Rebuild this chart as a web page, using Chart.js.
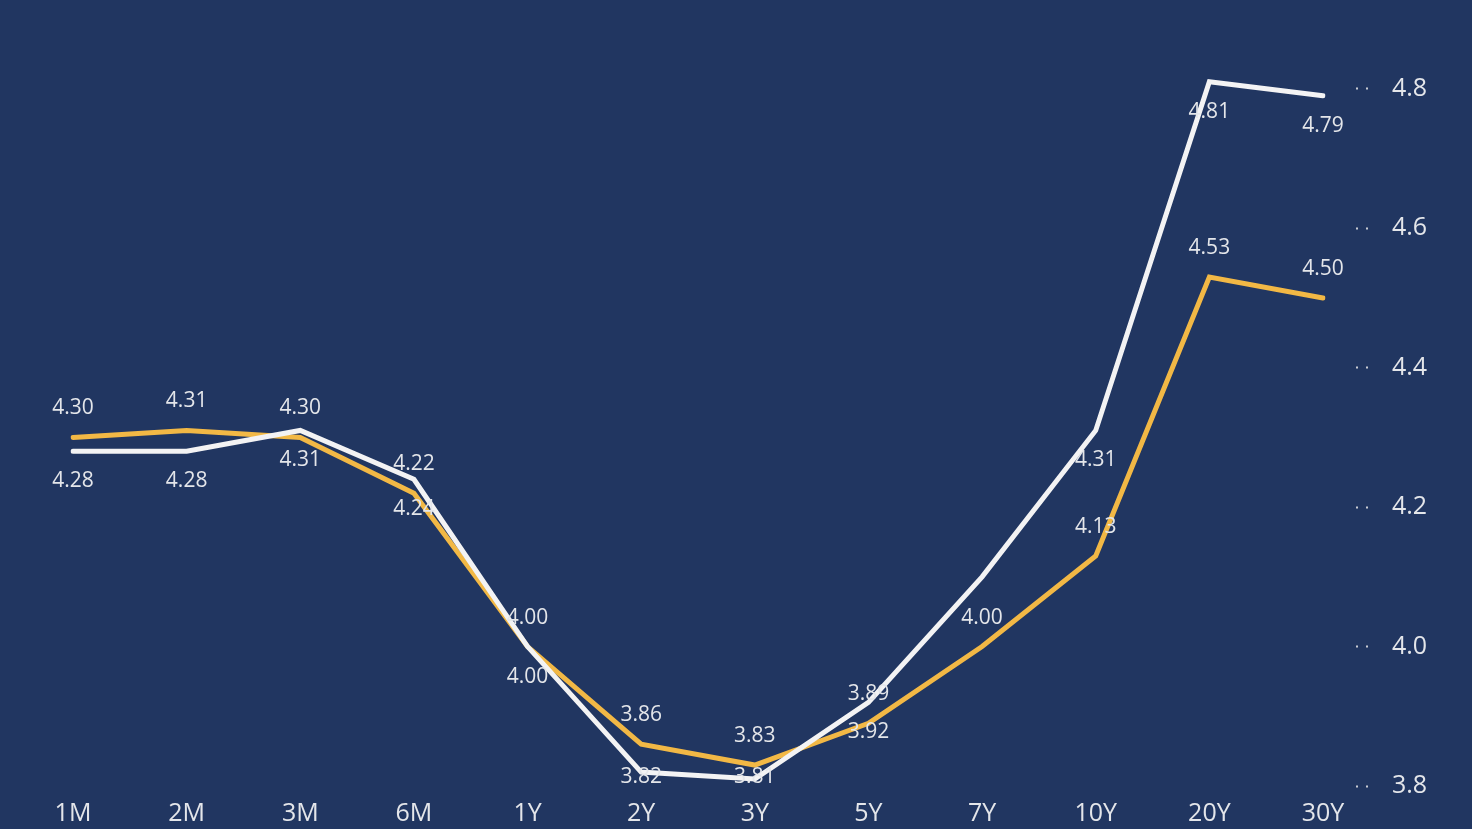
<!DOCTYPE html>
<html>
<head>
<meta charset="utf-8">
<script src="https://cdn.jsdelivr.net/npm/chart.js@4"></script>
<style>
  html, body { margin: 0; padding: 0; background: #213661; overflow: hidden; }
  #wrap { width: 1472px; height: 829px; }
</style>
</head>
<body>
<div id="wrap"><canvas id="c" width="1472" height="829"></canvas></div>
<script>
const categories = ['1M','2M','3M','6M','1Y','2Y','3Y','5Y','7Y','10Y','20Y','30Y'];
const yellowValues = [4.30, 4.31, 4.30, 4.22, 4.00, 3.86, 3.83, 3.89, 4.00, 4.13, 4.53, 4.50];
const whiteValues  = [4.28, 4.28, 4.31, 4.24, 4.00, 3.82, 3.81, 3.92, 4.10, 4.31, 4.81, 4.79];
const whiteHiddenLabels = ['7Y'];
const yTickValues = [3.8, 4.0, 4.2, 4.4, 4.6, 4.8];

const FONT = "'Open Sans', 'Noto Sans', sans-serif";
const TEXT = '#e4e6ea';

const dataLabels = {
  id: 'dataLabels',
  afterDatasetsDraw(chart) {
    const ctx = chart.ctx;
    const area = chart.chartArea;
    ctx.save();
    ctx.font = '21px ' + FONT;
    ctx.fillStyle = TEXT;
    ctx.textAlign = 'center';
    ctx.textBaseline = 'middle';
    chart.data.datasets.forEach((ds, di) => {
      const meta = chart.getDatasetMeta(di);
      meta.data.forEach((pt, i) => {
        if (ds.hiddenLabels && ds.hiddenLabels.includes(categories[i])) return;
        let y = pt.y + ds.labelOffset;
        y = Math.min(y, area.bottom - 9);
        y = Math.max(y, area.top + 10);
        ctx.fillText(ds.data[i].toFixed(2), pt.x, y);
      });
    });
    ctx.restore();
  }
};

new Chart(document.getElementById('c'), {
  type: 'line',
  data: {
    labels: categories,
    datasets: [
      {
        label: 'Yellow',
        data: yellowValues,
        borderColor: '#f2b845',
        borderWidth: 5,
        pointRadius: 0,
        tension: 0,
        borderCapStyle: 'round',
        order: 1,
        labelOffset: -29
      },
      {
        label: 'White',
        data: whiteValues,
        borderColor: '#f3f3f4',
        borderWidth: 5,
        pointRadius: 0,
        tension: 0,
        borderCapStyle: 'round',
        order: 0,
        labelOffset: 30,
        hiddenLabels: whiteHiddenLabels
      }
    ]
  },
  options: {
    responsive: false,
    animation: false,
    devicePixelRatio: 1,
    layout: { padding: { left: 73, top: 33, right: 0, bottom: 0 } },
    plugins: { legend: { display: false }, tooltip: { enabled: false } },
    scales: {
      x: {
        offset: false,
        grid: { display: false, drawTicks: false },
        border: { display: false },
        ticks: { color: TEXT, font: { family: FONT, size: 25 }, padding: 13, maxRotation: 0, autoSkip: false },
        afterFit(scale) { scale.height = 43; scale.paddingLeft = 0; scale.paddingRight = 0; }
      },
      y: {
        position: 'right',
        min: 3.8,
        max: 4.88,
        afterBuildTicks(scale) { scale.ticks = yTickValues.map(v => ({ value: v })); },
        grid: {
          drawOnChartArea: false,
          drawTicks: true,
          tickLength: 46,
          tickColor: '#c9ccd4',
          tickWidth: 2,
          tickBorderDash: [2, 8, 2, 34],
          tickBorderDashOffset: 13
        },
        border: { display: false },
        ticks: {
          color: TEXT,
          font: { family: FONT, size: 25 },
          padding: 23,
          callback: v => v.toFixed(1)
        },
        afterFit(scale) { scale.width = 149; scale.paddingTop = 0; scale.paddingBottom = 0; }
      }
    }
  },
  plugins: [dataLabels]
});
</script>
</body>
</html>
